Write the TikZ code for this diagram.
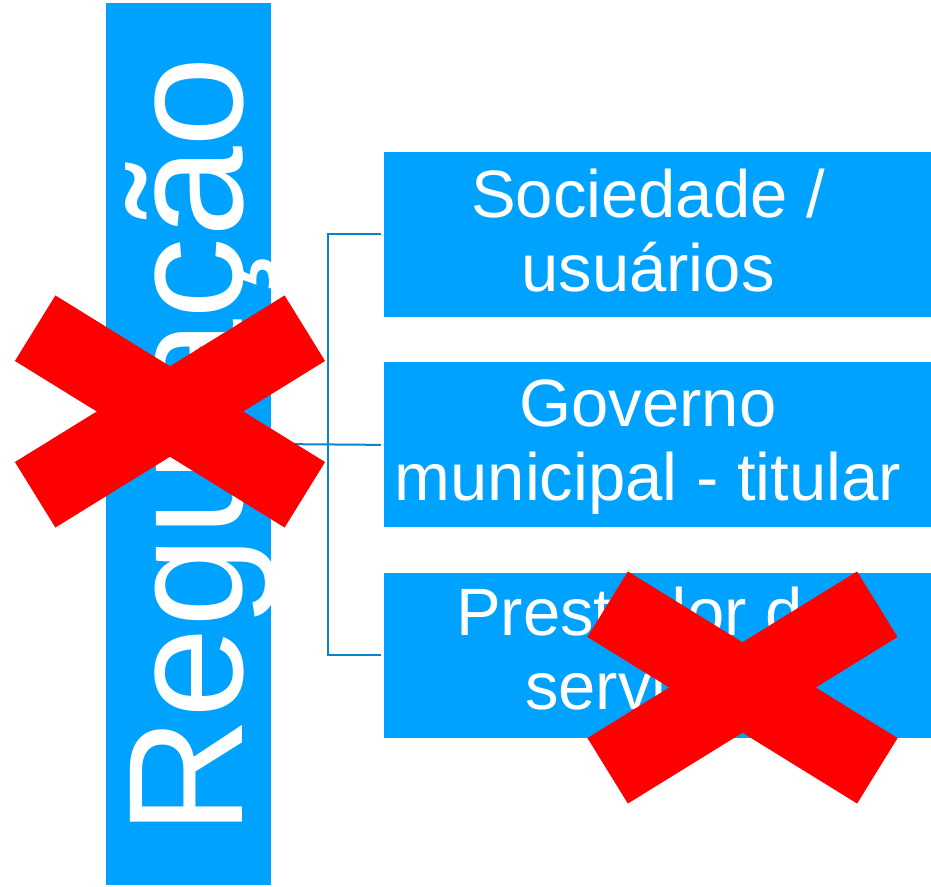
\documentclass[tikz,border=0pt]{standalone}
\usepackage{fontspec}
\setmainfont{Liberation Sans}
\usetikzlibrary{calc,positioning}
\definecolor{boxblue}{HTML}{00A2FF}
\definecolor{linkblue}{HTML}{0A84CC}
\definecolor{crossred}{HTML}{FF0000}
\tikzset{
  pillar/.style={fill=boxblue, inner sep=0pt, minimum width=165pt, minimum height=882pt},
  pillartext/.style={text=white, inner sep=0pt, rotate=90, anchor=base west, font=\fontsize{163}{163}\selectfont},
  party/.style={fill=boxblue, inner sep=0pt, minimum width=547pt, minimum height=165pt},
  partytext/.style={text=white, align=center, inner sep=0pt, font=\fontsize{67}{74}\selectfont},
  link/.style={draw=linkblue, line width=2pt},
  crossbar/.style={fill=crossred, inner sep=0pt, minimum width=317pt, minimum height=77pt}
}

\begin{document}
\begin{tikzpicture}[x=1pt, y=1pt]
  \useasboundingbox (0,0) rectangle (931,886);
  % regulacao column
  \node[pillar] (reg) at (188.5,442) {};
  \node[pillartext] (reg-text) at (242,50) {Regulação};
  % the three parties
  \node[party] (soc) at (657.5,651.5) {};
  \node[party, below=45pt of soc] (gov) {};
  \node[party, below=45pt of gov] (prest) {};
  \node[partytext] (soc-text) at ([xshift=-9.5pt,yshift=4pt]soc.center) {Sociedade /\\usuários};
  \node[partytext] (gov-text) at ([xshift=-9.5pt,yshift=-2pt]gov.center) {Governo\\municipal - titular};
  \node[partytext] (prest-text) at ([xshift=-9.5pt]prest.center) {Prestador de\\serviços};
  % connectors
  \coordinate (fork) at ($(reg.east)!.5!(gov.west)$);
  \draw[link, shorten >=3pt] (reg.east) -- (gov.west);
  \draw[link, shorten <=3pt, shorten >=3pt] (soc.west) -| (fork) |- (prest.west);
  % crossed out
  \coordinate (veto-reg) at (170,474.5);
  \coordinate (veto-prest) at (742.5,198.5);
  \foreach \c in {veto-reg,veto-prest}
    \foreach \a/\n in {31.7/a,-31.7/b}
      \node[crossbar, rotate=\a] (\c-\n) at (\c) {};
\end{tikzpicture}
\end{document}
